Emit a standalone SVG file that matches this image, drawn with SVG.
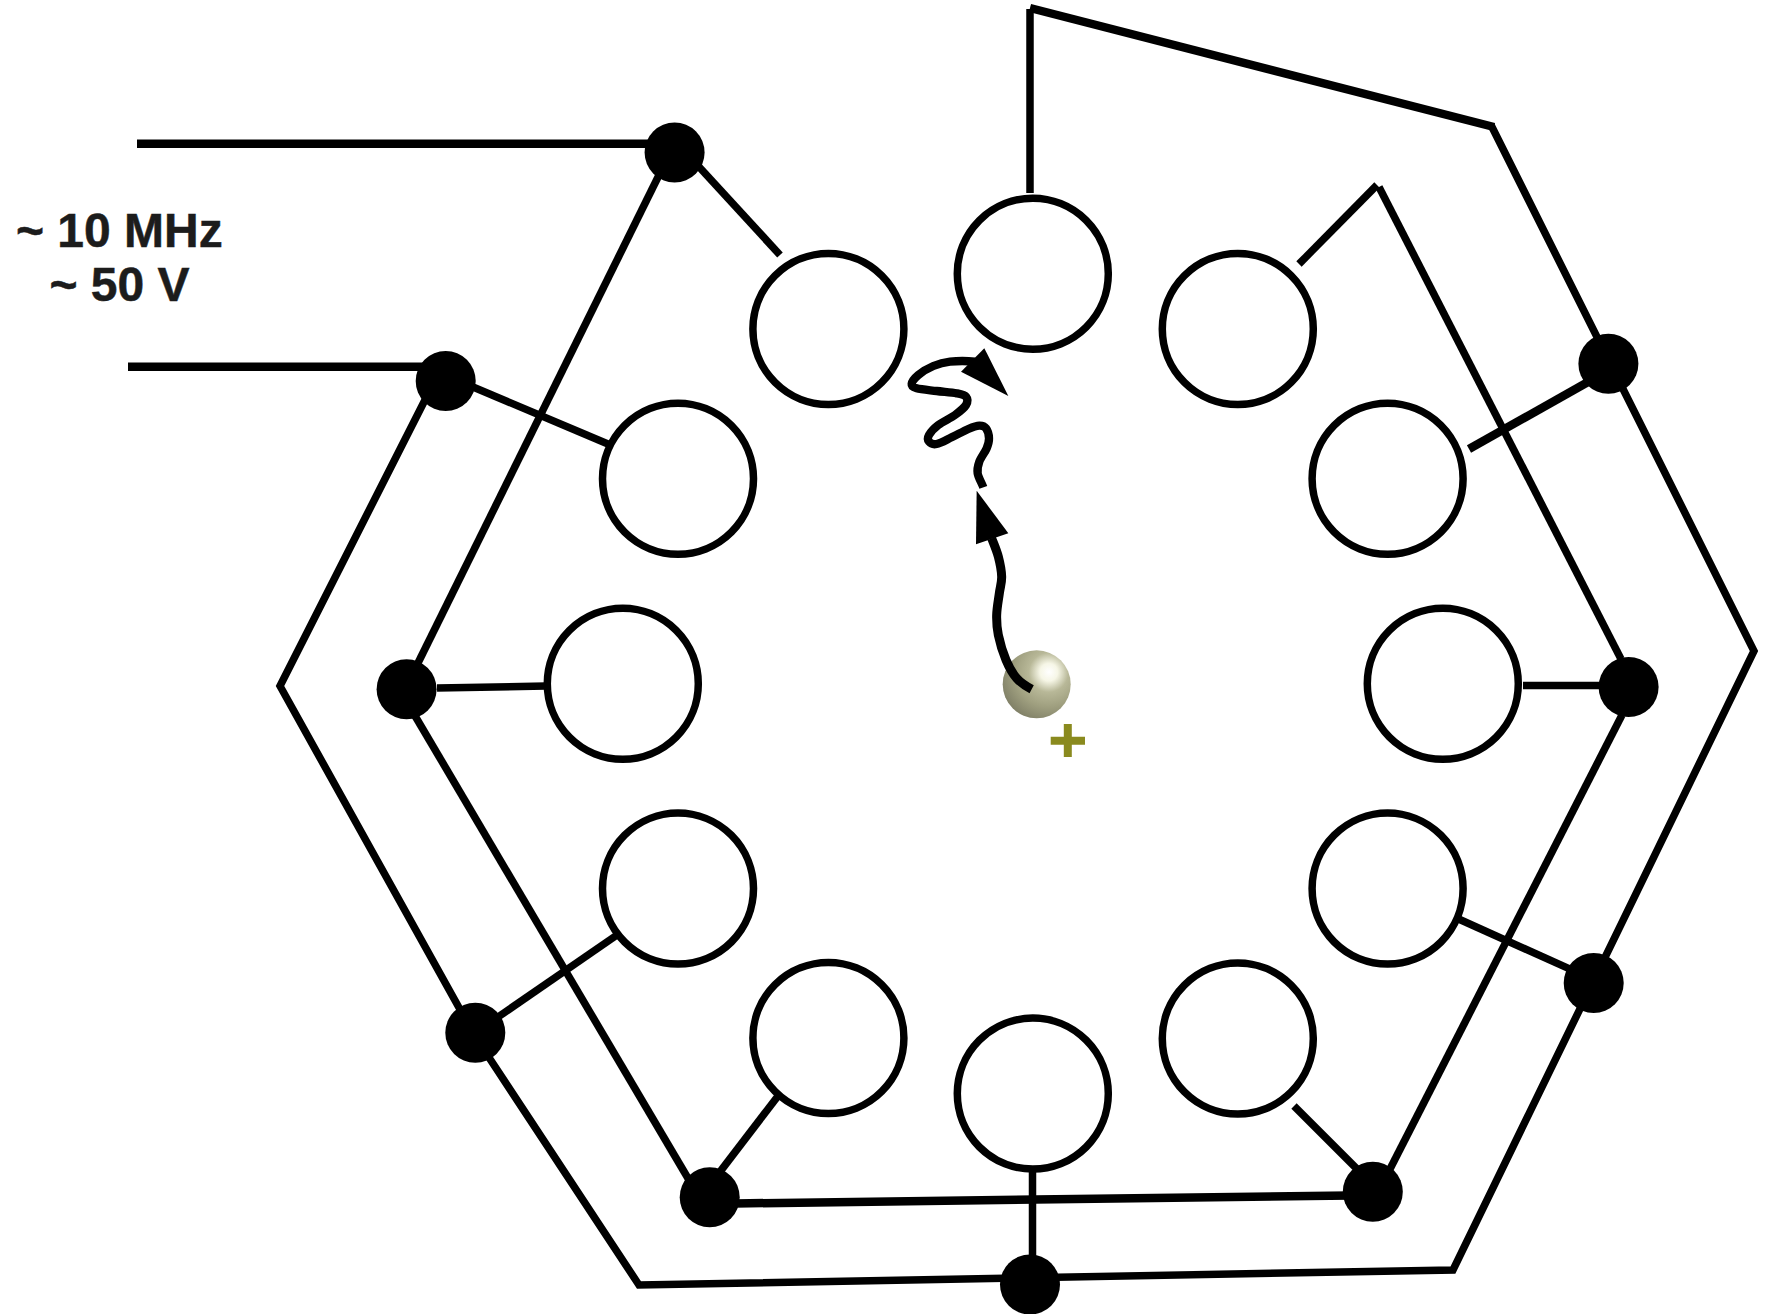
<svg xmlns="http://www.w3.org/2000/svg" width="1766" height="1314" viewBox="0 0 1766 1314">
<style>
.w{fill:none;stroke:#000;stroke-width:7.5;stroke-linejoin:miter}
.t{stroke-width:8.5}
.e{fill:#fff;stroke:#000;stroke-width:7.5}
.d{fill:#000}
.a{fill:#000}
.l{font-family:"Liberation Sans",Arial,sans-serif;font-weight:700;font-size:48px;fill:#1c1c1c;stroke:#1c1c1c;stroke-width:.5}
</style>
<defs>
<radialGradient id="ion" gradientUnits="userSpaceOnUse" cx="1048" cy="673" r="52" fx="1049" fy="672">
<stop offset="0" stop-color="#fff"/>
<stop offset=".17" stop-color="#f6f6e6"/>
<stop offset=".38" stop-color="#b8b898"/>
<stop offset=".65" stop-color="#a0a080"/>
<stop offset="1" stop-color="#7c7c64"/>
</radialGradient>
</defs>
<rect width="1766" height="1314" fill="#fff"/>
<g id="connectors">
<path class="w t" d="M137 143.7H665"/>
<path class="w t" d="M128 366.7H440"/>
<path class="w" d="M690 157L780 255"/>
<path class="w" d="M662 169L417 665"/>
<path class="w" d="M473 387L608 444"/>
<path class="w" d="M428 394L280 686L462 1013"/>
<path class="w" d="M437 688L546 686"/>
<path class="w" d="M414.5 715L689 1180"/>
<path class="w" d="M498 1017L617 935"/>
<path class="w" d="M488 1056L639 1285L1453 1270L1754 651L1491 125"/>
<path class="w t" d="M1494 127L1030 8"/>
<path class="w" d="M1030 9V193"/>
<path class="w" d="M718.6 1173.6L778 1096"/>
<path class="w t" d="M735 1203.5L1350 1195.5"/>
<path class="w" d="M1032.5 1171V1255"/>
<path class="w" d="M1294 1106L1358 1170"/>
<path class="w" d="M1390 1169L1622 715"/>
<path class="w" d="M1523 685.5H1600"/>
<path class="w" d="M1621 659L1379 187"/>
<path class="w" d="M1299 264L1377 185"/>
<path class="w t" d="M1588 382L1469 449"/>
<path class="w" d="M1569 968.6L1458.6 919"/>
</g>
<g id="electrode-1"><circle class="e" cx="828.4" cy="329" r="75.5"/></g>
<g id="electrode-2"><circle class="e" cx="1032.8" cy="273.7" r="75.5"/></g>
<g id="electrode-3"><circle class="e" cx="1237.8" cy="329" r="75.5"/></g>
<g id="electrode-4"><circle class="e" cx="1387.6" cy="478.7" r="75.5"/></g>
<g id="electrode-5"><circle class="e" cx="1442.8" cy="683.7" r="75.5"/></g>
<g id="electrode-6"><circle class="e" cx="1387.6" cy="888.6" r="75.5"/></g>
<g id="electrode-7"><circle class="e" cx="1237.8" cy="1038.5" r="75.5"/></g>
<g id="electrode-8"><circle class="e" cx="1032.8" cy="1093.6" r="75.5"/></g>
<g id="electrode-9"><circle class="e" cx="828.4" cy="1038" r="75.5"/></g>
<g id="electrode-10"><circle class="e" cx="678" cy="888.6" r="75.5"/></g>
<g id="electrode-11"><circle class="e" cx="622.8" cy="683.7" r="75.5"/></g>
<g id="electrode-12"><circle class="e" cx="678" cy="478.7" r="75.5"/></g>
<g id="dot-1"><circle class="d" cx="674.6" cy="152.5" r="30"/></g>
<g id="dot-2"><circle class="d" cx="445.7" cy="381" r="30"/></g>
<g id="dot-3"><circle class="d" cx="406.6" cy="689.3" r="30"/></g>
<g id="dot-4"><circle class="d" cx="475.3" cy="1032.8" r="30"/></g>
<g id="dot-5"><circle class="d" cx="709.7" cy="1197.3" r="30"/></g>
<g id="dot-6"><circle class="d" cx="1030" cy="1284.5" r="30"/></g>
<g id="dot-7"><circle class="d" cx="1372.8" cy="1191.7" r="30"/></g>
<g id="dot-8"><circle class="d" cx="1593.7" cy="983" r="30"/></g>
<g id="dot-9"><circle class="d" cx="1628.6" cy="687" r="30"/></g>
<g id="dot-10"><circle class="d" cx="1608.4" cy="363.8" r="30"/></g>
<g id="ion-sphere">
<circle cx="1036.7" cy="684.3" r="34" fill="url(#ion)"/>
<path d="M1050.7 740.7H1085M1067.8 724V757" fill="none" stroke="#8a8a1e" stroke-width="8"/>
</g>
<g id="ion-track" transform="translate(880 330) scale(.33333)">
<path fill="none" stroke="#000" stroke-width="27" d="M455 1078C440 1070 422.8 1059.7 410 1045S387.2 1011.7 378 990S359.7 937.5 355 915S349.5 875.8 350 855S355.5 809.2 358 790S365.5 758.3 365 740S360 699.2 355 680S345 650 335 625"/>
<polygon class="a" points="290,482 385,610 288,643"/>
</g>
<g id="electron-path" transform="translate(880 330) scale(.33333)">
<path fill="none" stroke="#000" stroke-width="25" d="M310 472C305 458 295 442.8 293 430S293.5 407.5 298 395S315.2 366.7 320 355S327.3 335 327 325S322.8 301.3 318 295S306.8 286.7 298 287S278.8 291.2 265 297S230.8 314.5 215 322S181.3 339.8 170 342S150.8 339.5 147 335S142.3 323.3 147 315S162 295 175 285S211.2 265 225 255S252.5 234.2 258 225S262.7 205.8 258 200S244.7 192.8 230 190S190 185.5 170 183S122.5 178.5 110 175S94.2 168.7 95 162S104.2 144 115 135S144.2 114.7 160 108S189.2 97.2 210 95S255 92 285 95"/>
<polygon class="a" points="313,55 385,198 243,125"/>
</g>
<g id="label">
<text class="l" x="16" y="246.7">~ 10 MHz</text>
<text class="l" x="49.5" y="300.5">~ 50 V</text>
</g>
</svg>
